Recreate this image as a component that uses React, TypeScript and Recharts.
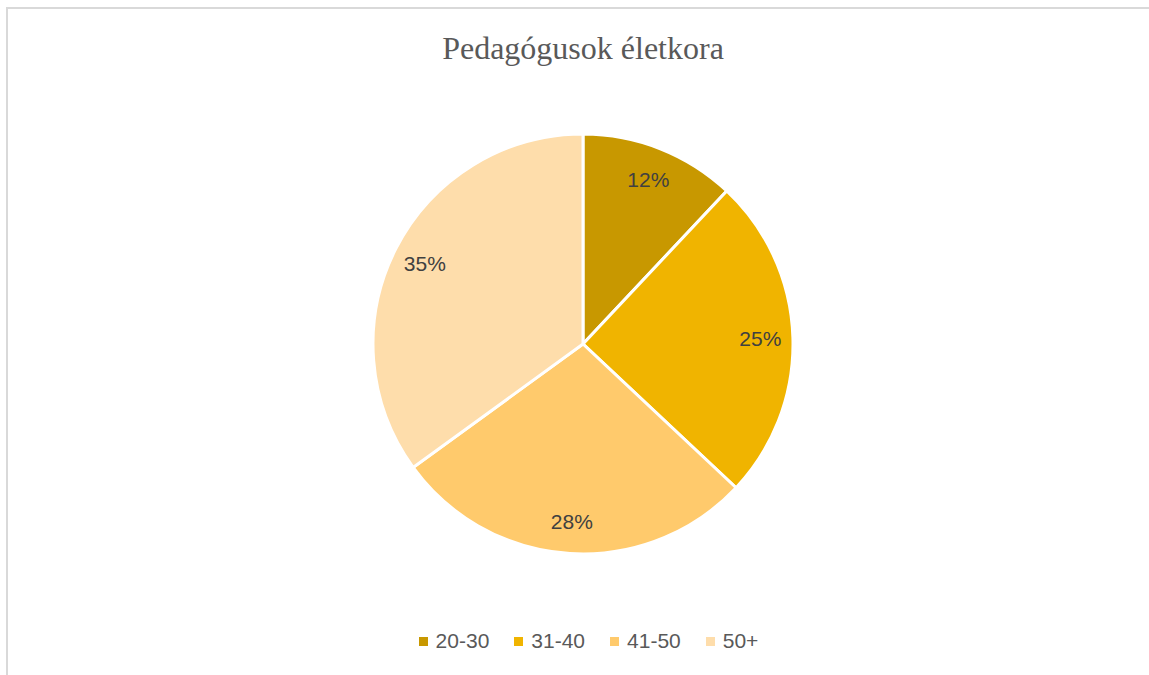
import { PieChart, Pie, Cell, Legend } from "recharts";

const ageGroups = ["20-30", "31-40", "41-50", "50+"];
const shares = [12, 25, 28, 35];
const sliceColors = ["#C89800", "#F0B400", "#FFCA6C", "#FEDDAB"];

const data = ageGroups.map((name, i) => ({ name, value: shares[i] }));

const RAD = Math.PI / 180;
const labelFont = "'Liberation Sans', Arial, sans-serif";

function renderLabel(props: any) {
  const { cx, cy, midAngle, outerRadius, value } = props;
  const r = outerRadius * 0.845;
  const x = cx + r * Math.cos(-midAngle * RAD);
  const y = cy + r * Math.sin(-midAngle * RAD);
  return (
    <text
      x={x}
      y={y}
      fill="#404040"
      fontSize={21}
      fontFamily={labelFont}
      textAnchor="middle"
      dominantBaseline="central"
    >
      {value}%
    </text>
  );
}

function renderLegend() {
  return (
    <div
      style={{
        display: "flex",
        justifyContent: "center",
        alignItems: "center",
        fontFamily: labelFont,
        fontSize: 21,
        lineHeight: "28px",
        color: "#595959",
      }}
    >
      {ageGroups.map((g, i) => (
        <div key={g} style={{ display: "flex", alignItems: "center", marginRight: i < ageGroups.length - 1 ? 25 : 0 }}>
          <span
            style={{
              display: "inline-block",
              width: 9,
              height: 9,
              background: sliceColors[i],
              marginRight: 8,
            }}
          />
          <span>{g}</span>
        </div>
      ))}
    </div>
  );
}

export default function App() {
  return (
    <div style={{ position: "absolute", left: 0, top: 0, width: 1149, height: 675, background: "#fff", overflow: "hidden" }}>
      <div
        style={{
          position: "absolute",
          left: 6,
          top: 7,
          width: 1160,
          height: 700,
          borderTop: "2px solid #d9d9d9",
          borderLeft: "2px solid #d9d9d9",
        }}
      />
      <div
        style={{
          position: "absolute",
          left: 0,
          top: 30,
          width: 1166,
          textAlign: "center",
          fontFamily: "'Liberation Serif', 'Times New Roman', serif",
          fontSize: 32,
          color: "#595959",
        }}
      >
        Pedagógusok életkora
      </div>
      <div style={{ position: "absolute", left: 0, top: 0 }}>
        <PieChart width={1149} height={675} margin={{ top: 0, right: 0, bottom: 0, left: 0 }}>
          <Pie
            data={data}
            dataKey="value"
            nameKey="name"
            cx={583}
            cy={344}
            outerRadius={210}
            startAngle={90}
            endAngle={-270}
            stroke="#ffffff"
            strokeWidth={3}
            label={renderLabel}
            labelLine={false}
            isAnimationActive={false}
          >
            {data.map((d, i) => (
              <Cell key={d.name} fill={sliceColors[i]} />
            ))}
          </Pie>
          <Legend
            content={renderLegend}
            verticalAlign="bottom"
            wrapperStyle={{ left: 0, width: 1177, top: 627, bottom: "auto" }}
          />
        </PieChart>
      </div>
    </div>
  );
}
